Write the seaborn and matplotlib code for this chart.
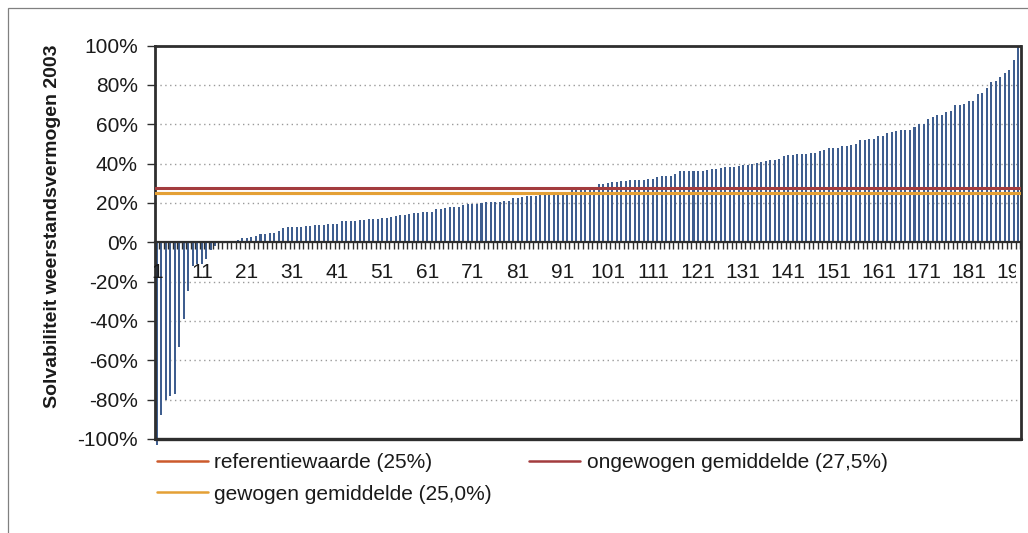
import numpy as np
import pandas as pd
import matplotlib
matplotlib.use("Agg")
import matplotlib.pyplot as plt
import seaborn as sns
from matplotlib.patches import Rectangle
from matplotlib.lines import Line2D
from matplotlib.transforms import Bbox, TransformedBbox

# ---------------- data (percent) ----------------
neg_values = [-103, -88, -80, -78, -77, -53, -39, -25, -12, -11, -11, -8.5, -4, -2]
near_zero_values = [-0.4, -0.3, 0.0, 0.3]
low_values = [1.2, 2.2, 2.2, 2.7, 3.2, 4.2, 4.2, 4.7, 4.7, 5.7, 7.2, 7.7, 7.7, 7.7, 7.7,
              8.2, 8.2, 8.7, 8.7, 8.7, 9.2, 9.2, 9.2, 10.8, 10.8, 10.8, 10.8, 11.3, 11.3,
              11.8, 11.8, 11.8, 12.3, 12.3, 12.8, 13.3, 13.8, 13.8, 14.3, 14.8, 14.8,
              15.3, 15.3, 15.3, 16.8]
mid_values = [16.8, 17.3, 17.8, 17.8, 17.8, 18.8, 19.3, 19.3, 19.3, 19.8, 20.3, 20.3, 20.3,
              20.3, 20.8, 20.8, 22.4, 22.4, 22.9, 23.4, 23.4, 23.4, 24.4, 24.4, 24.4, 24.4,
              24.4, 24.4, 24.4, 26.4, 26.9, 26.9, 26.9, 26.9, 26.9]
upper_mid_values = [29.5, 29.5, 30.0, 30.5, 30.5, 31.0, 31.0, 31.5, 31.5, 31.5, 31.5, 32.0,
                    32.0, 33.0, 33.6, 33.6, 33.6, 34.6, 36.1, 36.1, 36.1, 36.1, 36.1, 36.1,
                    36.6, 37.1, 37.1, 37.6, 38.1, 38.1, 38.1]
high_values = [38.6, 39.2, 39.2, 39.7, 40.2, 40.7, 41.2, 41.7, 41.7, 42.2, 43.7, 44.2, 44.2,
               44.7, 44.7, 44.7, 45.3, 45.3, 46.3, 46.8, 47.8, 47.8, 47.8, 48.8, 48.8, 49.3,
               49.8, 51.9, 51.9, 52.4, 52.4, 53.9, 53.9]
top_values = [55.4, 55.9, 56.4, 56.9, 56.9, 56.9, 58.5, 60.0, 60.0, 62.5, 63.6, 64.6, 64.6,
              66.1, 66.6, 69.7, 69.7, 70.2, 71.7, 71.7, 75.3, 75.8, 78.3, 81.4, 81.9, 83.9,
              85.9, 87.5, 92.5, 100.0]

values = (neg_values + near_zero_values + low_values + mid_values + upper_mid_values
          + high_values + top_values)
n = len(values)
fund_ids = list(range(1, n + 1))
x_tick_labels = [str(k) for k in range(1, n + 1, 10)]
y_ticks = list(range(-100, 101, 20))
y_tick_labels = [f"{v}%" for v in y_ticks]

ref_label = "referentiewaarde (25%)"
ref_value = 25.0
unweighted_label = "ongewogen gemiddelde (27,5%)"
unweighted_value = 27.5
weighted_label = "gewogen gemiddelde (25,0%)"
weighted_value = 25.0
y_label = "Solvabiliteit weerstandsvermogen 2003"

# ---------------- style ----------------
bar_color = "#3F5E8F"
ref_color = "#CC5A2C"
unweighted_color = "#A33C3E"
weighted_color = "#E4A035"
frame_color = "#2E2E2E"
text_color = "#1A1A1A"

sns.set_theme(style="white")
plt.rcParams["font.family"] = ["Liberation Sans", "DejaVu Sans"]

W, H = 1028, 533
fig = plt.figure(figsize=(W / 100, H / 100), dpi=100)
fig.patch.set_facecolor("white")

left, right, top, bottom = 154.5, 1020.5, 45.5, 439.0
ax = fig.add_axes([left / W, 1 - bottom / H, (right - left) / W, (bottom - top) / H])

df = pd.DataFrame({"fund": fund_ids, "value": values})
sns.barplot(data=df, x="fund", y="value", color=bar_color, saturation=1, width=0.45,
            linewidth=0, ax=ax, zorder=2, clip_on=False, errorbar=None)

# reference lines
ax.axhline(ref_value, color=ref_color, lw=2.2, zorder=3)
ax.axhline(unweighted_value, color=unweighted_color, lw=2.2, zorder=3)
ax.axhline(weighted_value, color=weighted_color, lw=2.2, zorder=3)

ax.set_xlim(-0.5, n - 0.5)
ax.set_ylim(-100, 100)

# grid
ax.set_axisbelow(True)
ax.yaxis.grid(True, linestyle=(0, (1, 2.5)), color="#9A9A9A", lw=1.0)
ax.xaxis.grid(False)

# spines
for s in ["top", "right", "left"]:
    ax.spines[s].set_color(frame_color)
    ax.spines[s].set_linewidth(2.0)
ax.spines["bottom"].set_position(("data", 0))
ax.spines["bottom"].set_color(frame_color)
ax.spines["bottom"].set_linewidth(1.6)
ax.spines["bottom"].set_zorder(4)
ax.axhline(-100, color=frame_color, lw=2.4, zorder=4, clip_on=False)

# ticks
ax.set_yticks(y_ticks)
ax.set_yticklabels(y_tick_labels)
ax.tick_params(axis="y", which="major", direction="out", length=6, width=1.0,
               color=frame_color, pad=6, labelsize=15, labelcolor=text_color, left=True)

ax.set_xticks(list(range(0, n, 10)))
ax.set_xticklabels(x_tick_labels)
ax.set_xticks(np.arange(-0.5, n, 1.0), minor=True)
ax.tick_params(axis="x", which="major", length=0, pad=15, labelsize=15,
               labelcolor=text_color, bottom=True)
ax.tick_params(axis="x", which="minor", direction="out", length=5, width=1.0,
               color=frame_color, bottom=True)
ax.xaxis.set_zorder(5)
ax.set_xlabel("")
ax.set_ylabel("")

clip = TransformedBbox(Bbox([[-0.03, -0.5], [0.995, 1.5]]), ax.transAxes)
for lbl in ax.get_xticklabels():
    lbl.set_clip_box(clip)
    lbl.set_clip_on(True)

# y axis title
fig.text(53 / W, 1 - 226.5 / H, y_label, rotation=90, ha="center", va="center",
         fontsize=14, fontweight="bold", color=text_color)

# legend
handles = [
    Line2D([], [], color=ref_color, lw=1.8, label=ref_label),
    Line2D([], [], color=weighted_color, lw=1.8, label=weighted_label),
    Line2D([], [], color=unweighted_color, lw=1.8, label=unweighted_label),
]
fig.legend(handles=handles, ncol=2, loc="upper left",
           bbox_to_anchor=(157 / W, 1 - 453 / H), frameon=False,
           prop={"family": ["Liberation Sans", "DejaVu Sans"], "size": 15},
           handlelength=2.45, handletextpad=0.3, columnspacing=1.8,
           labelspacing=0.6, borderpad=0, borderaxespad=0, labelcolor=text_color)

# outer chart border
fig.add_artist(Rectangle((8 / W, -0.1), 1.2, (1 - 8 / H) + 0.1, transform=fig.transFigure,
                         fill=False, edgecolor="#808080", lw=0.9))

fig.savefig("out.png", dpi=100)
